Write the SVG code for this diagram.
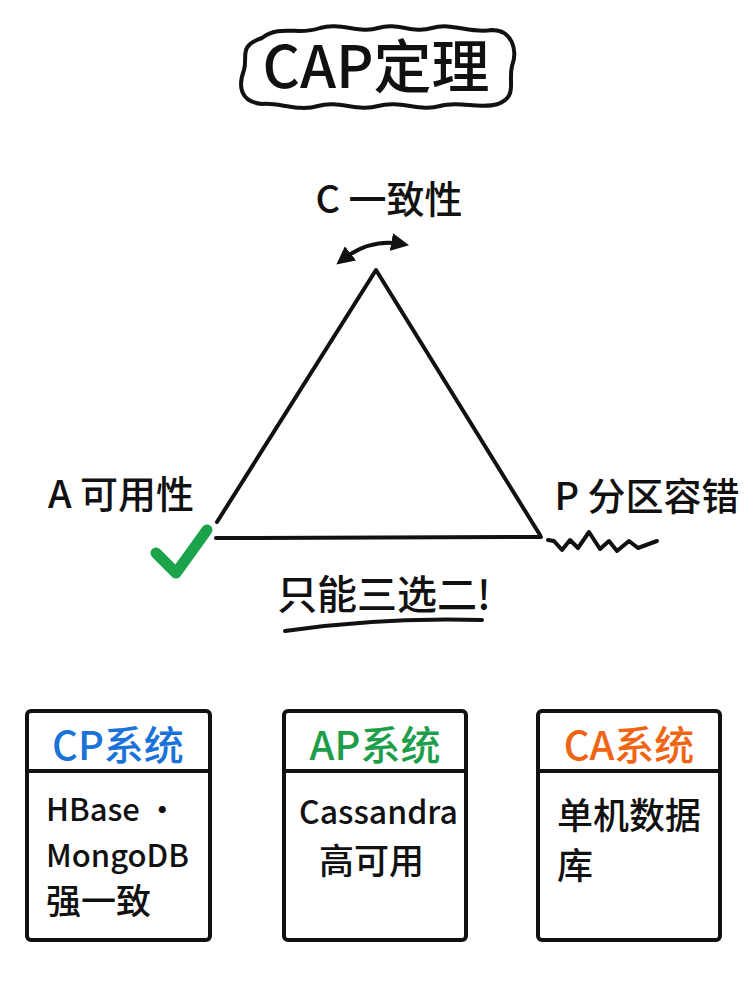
<svg xmlns="http://www.w3.org/2000/svg" width="756" height="987" viewBox="0 0 756 987">
<style>
.t{font-family:"Noto Sans CJK SC","Noto Sans",sans-serif;fill:#111;font-weight:500}
.ln{fill:none;stroke:#111;stroke-width:4;stroke-linecap:round;stroke-linejoin:round}
.box{fill:#fff;stroke:#111;stroke-width:4}
</style>
<defs>
<marker id="ah" viewBox="0 0 10 10" refX="6" refY="5" markerWidth="4.5" markerHeight="4.5" orient="auto-start-reverse">
<path d="M0,0 L10,5 L0,10 Z" fill="#111"/>
</marker>
</defs>
<rect width="756" height="987" fill="#fff"/>
<g id="title">
<path class="ln" stroke-width="2.5" d="M262,38 C280,24 300,36 320,28 C340,22 360,34 378,28 C398,22 412,34 432,28 C452,22 470,34 492,30 C512,30 518,50 512,66 C508,82 518,96 498,104 C478,110 460,100 440,106 C420,112 400,100 378,106 C358,112 338,100 318,106 C298,112 278,102 262,104 C240,102 238,86 244,70 C248,56 238,46 262,38 Z"/>
<text class="t" x="376" y="88" font-size="58" text-anchor="middle" font-weight="700">CAP定理</text>
</g>
<g id="node-c">
<text class="t" x="389" y="213" font-size="38" text-anchor="middle">C 一致性</text>
</g>
<g id="node-a">
<text class="t" x="121" y="508" font-size="38" text-anchor="middle">A 可用性</text>
<path d="M156,553 L176,573 L207,530" fill="none" stroke="#1aa34a" stroke-width="11" stroke-linecap="round" stroke-linejoin="round"/>
</g>
<g id="node-p">
<text class="t" x="647" y="510" font-size="38" text-anchor="middle">P 分区容错</text>
</g>
<g id="connectors">
<path class="ln" stroke-width="4.5" d="M342,260 Q370,238 402,244" marker-start="url(#ah)" marker-end="url(#ah)"/>
<path class="ln" d="M217,522 L376,270 L540,535"/>
<path class="ln" d="M216,538 L541,537"/>
<path class="ln" stroke-width="2.8" d="M548,540 L554,541 L562,550 L570,540 L578,548 L589,532 L600,549 L609,541 L617,551 L629,541 L638,548 L657,541"/>
</g>
<g id="note">
<text class="t" x="384" y="609" font-size="40" text-anchor="middle" font-weight="700">只能三选二!</text>
<path class="ln" stroke-width="4.5" d="M285,631 Q380,617 482,620"/>
</g>
<g id="cp">
<rect class="box" x="27" y="711" width="183" height="229" rx="4"/>
<line class="ln" x1="27" y1="771" x2="210" y2="771"/>
<text class="t" x="118" y="760" font-size="40" text-anchor="middle" style="fill:#1a73d9">CP系统</text>
<text class="t" x="46" y="821" font-size="31">HBase •</text>
<text class="t" x="46" y="867" font-size="31">MongoDB</text>
<text class="t" x="46" y="914" font-size="35">强一致</text>
</g>
<g id="ap">
<rect class="box" x="284" y="711" width="182" height="229" rx="4"/>
<line class="ln" x1="284" y1="771" x2="466" y2="771"/>
<text class="t" x="375" y="760" font-size="40" text-anchor="middle" style="fill:#1e9e4a">AP系统</text>
<text class="t" x="299" y="824" font-size="32">Cassandra</text>
<text class="t" x="319" y="874" font-size="35">高可用</text>
</g>
<g id="ca">
<rect class="box" x="538" y="711" width="182" height="229" rx="4"/>
<line class="ln" x1="538" y1="771" x2="720" y2="771"/>
<text class="t" x="629" y="760" font-size="40" text-anchor="middle" style="fill:#f06414">CA系统</text>
<text class="t" x="557" y="829" font-size="36">单机数据</text>
<text class="t" x="557" y="879" font-size="36">库</text>
</g>
</svg>
